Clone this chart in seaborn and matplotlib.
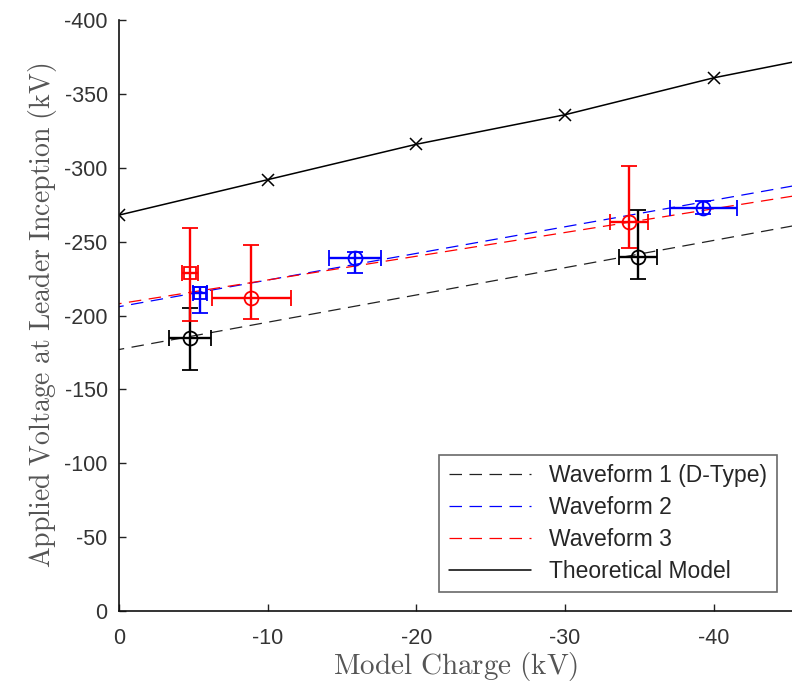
import numpy as np
import pandas as pd
import seaborn as sns
import matplotlib
matplotlib.use("Agg")
import matplotlib.pyplot as plt

# theoretical model
theory_x = [0, -10, -20, -30, -40, -50]
theory_y = [-268, -292, -316, -336, -361, -381]

# linear fits (read at x=0 and x=-46)
fit_x = [0, -46]
wf1_fit = [-177, -262]
wf2_fit = [-206, -289]
wf3_fit = [-208, -282]

# measured points: charge, voltage, x error, y error (up / down on the plot)
wf1_x = [-4.8, -34.9]
wf1_y = [-184.5, -239.8]
wf1_xerr = [1.4, 1.25]
wf1_yup = [20.5, 32]
wf1_ydn = [21.5, 14.7]
wf1_mark = ["o", "o"]

wf2_x = [-5.45, -15.9, -39.3]
wf2_y = [-215, -238.7, -273]
wf2_xerr = [0.45, 1.75, 2.25]
wf2_yup = [4.5, 4.5, 4.5]
wf2_ydn = [13.5, 10, 4.5]
wf2_mark = ["s", "o", "o"]

wf3_x = [-4.8, -8.9, -34.3]
wf3_y = [-228.5, -211.6, -263.5]
wf3_xerr = [0.55, 2.65, 1.25]
wf3_yup = [31, 36.5, 37.5]
wf3_ydn = [32, 14.2, 18]
wf3_mark = ["s", "o", "o"]

sns.set_style("ticks")
plt.rcParams["font.family"] = ["Liberation Sans", "DejaVu Sans"]
plt.rcParams["mathtext.fontset"] = "cm"
plt.rcParams["axes.unicode_minus"] = False

fig = plt.figure(figsize=(7.92, 6.91), dpi=100)
ax = fig.add_axes([0.150, 0.1158, 0.85, 0.855])

fits = pd.DataFrame({
    "x": fit_x * 3,
    "y": wf1_fit + wf2_fit + wf3_fit,
    "series": ["Waveform 1 (D-Type)"] * 2 + ["Waveform 2"] * 2 + ["Waveform 3"] * 2,
})
colors = {"Waveform 1 (D-Type)": "#222222", "Waveform 2": "#0000ff", "Waveform 3": "#ff0000"}
for name, grp in fits.groupby("series", sort=False):
    sns.lineplot(data=grp, x="x", y="y", ax=ax, color=colors[name], lw=0.9,
                 label=name, estimator=None)
    ax.lines[-1].set_dashes([10, 6])

sns.lineplot(x=theory_x, y=theory_y, ax=ax, color="black", lw=1.1,
             label="Theoretical Model", estimator=None)
ax.plot(theory_x, theory_y, ls="none", marker="x", ms=8, mew=1.1, color="black")

groups = [
    (wf1_x, wf1_y, wf1_xerr, wf1_yup, wf1_ydn, wf1_mark, "black"),
    (wf2_x, wf2_y, wf2_xerr, wf2_yup, wf2_ydn, wf2_mark, "#0000ff"),
    (wf3_x, wf3_y, wf3_xerr, wf3_yup, wf3_ydn, wf3_mark, "#ff0000"),
]
for xs, ys, xe, yu, yd, mk, c in groups:
    for i in range(len(xs)):
        # y values are negative on an inverted axis: lower data error goes up on screen
        ax.errorbar(xs[i], ys[i], xerr=xe[i], yerr=[[yu[i]], [yd[i]]],
                    fmt=mk[i], mfc="none", mec=c, ecolor=c, ms=10 if mk[i] == "o" else 9,
                    mew=1.3, elinewidth=1.7, capsize=6, capthick=1.7, zorder=3)

ax.set_xlim(0, -45.25)
ax.set_ylim(0, -400)
ax.set_xticks([0, -10, -20, -30, -40])
ax.set_yticks(np.arange(0, -401, -50))
ax.tick_params(direction="in", length=5, width=1, labelsize=15.5, colors="#222222",
               labelcolor="#333333", pad=8)
ax.tick_params(axis="x", pad=12)
sns.despine(ax=ax)
for s in ["left", "bottom"]:
    ax.spines[s].set_linewidth(1.2)
    ax.spines[s].set_color("#111111")

ax.set_xlabel(r"$\mathrm{Model\ Charge\ (kV)}$", fontsize=21, color="#555555", labelpad=1)
ax.set_ylabel(r"$\mathrm{Applied\ Voltage\ at\ Leader\ Inception\ (kV)}$", fontsize=20,
              color="#555555", labelpad=4)

leg = ax.legend(loc="lower right", bbox_to_anchor=(0.994, 0.012), fontsize=16.5,
                frameon=True, fancybox=False, edgecolor="#444444", handlelength=3.6,
                borderpad=0.4, labelspacing=0.4, handletextpad=0.8)
leg.get_frame().set_linewidth(1.2)

fig.savefig("out.png", dpi=100)
